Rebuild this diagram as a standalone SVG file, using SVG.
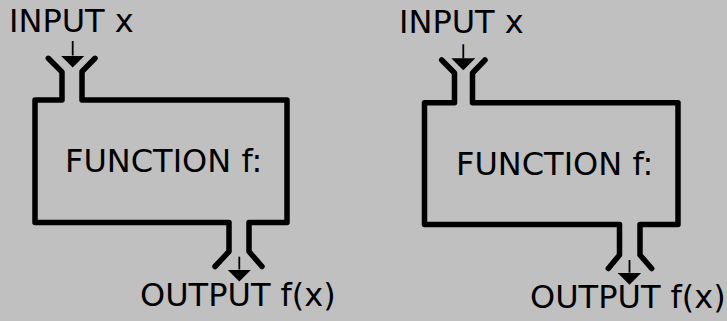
<svg xmlns="http://www.w3.org/2000/svg" width="727" height="321" viewBox="0 0 727 321">
  <defs>
    <style>
      .outline { fill: none; stroke: #000; stroke-width: 5.5; stroke-linecap: round; stroke-linejoin: round; }
      .arrow { fill: none; stroke: #000; stroke-width: 1.8; }
      .label { font-family: "DejaVu Sans", sans-serif; font-size: 32px; fill: #000; }
    </style>
    <marker id="head" viewBox="0 0 12 24" refX="0" refY="12" markerWidth="12" markerHeight="24" markerUnits="userSpaceOnUse" orient="auto">
      <path d="M0,0 L12,12 L0,24 Z" fill="#000"/>
    </marker>
  </defs>
  <rect x="0" y="0" width="727" height="321" fill="#c0c0c0"/>

  <g id="machine-left">
    <path class="outline" d="M48.3,58.3 L62,72 L62,100 L35,100 L35,222.5 L229,222.5 L229,251.5 L215,266.5"/>
    <path class="outline" d="M95,58.3 L82,71.5 L82,100 L287,100 L287,222.5 L249,222.5 L249,251.5 L262,266.5"/>
    <text class="label" x="65" y="172">FUNCTION f:</text>
  </g>
  <g id="input-left"><text class="label" x="9" y="32">INPUT x</text></g>
  <g id="output-left"><text class="label" x="140" y="306">OUTPUT f(x)</text></g>

  <g id="machine-right">
    <path class="outline" d="M441.7,60 L454.5,73 L454.5,102.7 L424.5,102.7 L424.5,224.5 L619.5,224.5 L619.5,255 L608.3,268.5"/>
    <path class="outline" d="M485,60 L472.5,73 L472.5,102.7 L678,102.7 L678,224.5 L640,224.5 L640,255 L651.7,268.5"/>
    <text class="label" x="456" y="175">FUNCTION f:</text>
  </g>
  <g id="input-right"><text class="label" x="399" y="33">INPUT x</text></g>
  <g id="output-right"><text class="label" x="530" y="308">OUTPUT f(x)</text></g>

  <g id="connectors">
    <line class="arrow" x1="72.7" y1="41" x2="72.7" y2="55.5" marker-end="url(#head)"/>
    <line class="arrow" x1="239.3" y1="256.7" x2="239.3" y2="269.5" marker-end="url(#head)"/>
    <line class="arrow" x1="463.3" y1="44.3" x2="463.3" y2="58.3" marker-end="url(#head)"/>
    <line class="arrow" x1="629.5" y1="260" x2="629.5" y2="272.7" marker-end="url(#head)"/>
  </g>
</svg>
